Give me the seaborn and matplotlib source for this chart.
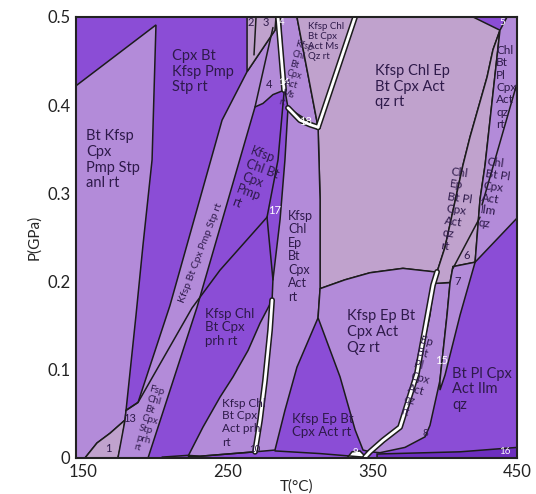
import matplotlib
matplotlib.use('Agg')
import matplotlib.pyplot as plt
import seaborn as sns

sns.set_style('white')
plt.rcParams['font.family'] = ['Lato', 'DejaVu Sans']

DARK = '#8b4dd6'
MID = '#b38bd9'
LIGHT = '#c0a2cd'
DEEP = '#6d2fbf'
EDGE = '#1c1c1c'
INK = '#2e1a4a'

# field outlines, T in °C and P in GPa
anl_T = [145, 200.3, 197.6, 191.3, 186.5, 179.6, 178.9, 168.5, 159.5, 151.2, 145]
anl_P = [0.422, 0.491, 0.338, 0.241, 0.162, 0.054, 0.043, 0.028, 0.017, 0, 0]

f1_T = [151.2, 159.5, 168.5, 178.9, 176.8, 174.0]
f1_P = [0, 0.017, 0.028, 0.043, 0.020, 0]

strip_T = [174.0, 194.8, 228.7, 268.8, 274.3, 281.2, 288.9, 284.7, 283.3, 282.6, 263.3, 246.0, 210.0, 187.9, 179.6, 178.9, 174.0]
strip_P = [0, 0, 0.171, 0.398, 0.402, 0.412, 0.417, 0.5, 0.5, 0.485, 0.438, 0.383, 0.173, 0.063, 0.054, 0.043, 0]

f23_T = [263.3, 283.3, 282.6, 263.3]
f23_P = [0.5, 0.5, 0.485, 0.438]

ms_T = [286.1, 297.8, 312.4, 306.8, 299.9, 291.6, 289.5]
ms_P = [0.5, 0.5, 0.375, 0.378, 0.383, 0.397, 0.417]

msqz_T = [297.8, 338.0, 312.4]
msqz_P = [0.5, 0.5, 0.375]

big_T = [338.0, 419.6, 438.2, 433.4, 429.3, 417.5, 412.6, 400.2, 394.7, 391.9, 371.1, 348.3, 331.0, 313.8, 313.8, 312.4]
big_P = [0.5, 0.5, 0.485, 0.463, 0.432, 0.364, 0.332, 0.239, 0.211, 0.211, 0.215, 0.210, 0.202, 0.192, 0.293, 0.375]

ep_T = [291.6, 312.4, 313.8, 313.8, 312.4, 297.8, 289.5, 282.6, 268.8, 272.3, 275.7, 279.2, 280.6, 281.2, 286.1, 289.5, 291.6]
ep_P = [0.397, 0.375, 0.293, 0.192, 0.159, 0.103, 0.054, 0.009, 0.007, 0.043, 0.088, 0.145, 0.179, 0.202, 0.270, 0.338, 0.397]

qz_T = [313.8, 331.0, 348.3, 371.1, 393.3, 380.8, 369.1, 357.3, 348.3, 343.5, 338.0, 327.6, 312.4]
qz_P = [0.192, 0.202, 0.210, 0.215, 0.211, 0.096, 0.035, 0.020, 0.007, 0.009, 0.032, 0.092, 0.159]

pl_T = [393.3, 403.7, 401.6, 396.7, 389.8, 386.4, 372.5, 355.2, 348.3, 357.3, 369.1, 380.8, 389.8, 391.9]
pl_P = [0.198, 0.199, 0.162, 0.088, 0.037, 0.024, 0.012, 0.006, 0.007, 0.020, 0.035, 0.096, 0.162, 0.190]

chlep_T = [438.2, 427.9, 424.4, 421.0, 405.7, 403.7, 393.3, 394.7, 400.2, 412.6, 417.5, 429.3, 433.4]
chlep_P = [0.485, 0.332, 0.293, 0.222, 0.217, 0.199, 0.198, 0.211, 0.239, 0.332, 0.364, 0.432, 0.463]

f7_T = [405.7, 421.0, 410.6, 400.2, 396.7, 396.7, 401.6, 403.7]
f7_P = [0.217, 0.222, 0.162, 0.094, 0.077, 0.088, 0.162, 0.199]

ilm_T = [438.2, 443.1, 450, 450, 421.0, 424.4, 427.9]
ilm_P = [0.485, 0.5, 0.5, 0.272, 0.222, 0.293, 0.332]

prh_T = [222.5, 232.8, 244.6, 253.6, 264.0, 272.3, 280.6, 279.2, 275.7, 272.3, 268.8, 230.8]
prh_P = [0.002, 0.035, 0.069, 0.092, 0.122, 0.153, 0.179, 0.145, 0.088, 0.043, 0.007, 0.002]

f16_T = [353.2, 353.2, 410.6, 450, 450]
f16_P = [0, 0.0045, 0.007, 0.012, 0]

f9_T = [332.4, 335.9, 341.4, 344.9, 342.8]
f9_P = [0, 0.007, 0.008, 0.002, 0]

# single reaction lines
pmp_T = [179.6, 187.9, 225.2, 244.6, 277.1]
pmp_P = [0.054, 0.063, 0.170, 0.213, 0.273]
pmp_right_T = [277.1, 284.7, 288.9]
pmp_right_P = [0.273, 0.338, 0.415]
l17_T = [277.1, 281.2]
l17_P = [0.273, 0.202]
l4_T = [268.8, 281.2]
l4_P = [0.398, 0.488]
l23_T = [269.5, 268.1]
l23_P = [0.5, 0.457]
l6_T = [424.4, 405.7]
l6_P = [0.273, 0.215]
ilm_line_T = [450, 425.8]
ilm_line_P = [0.425, 0.287]
base_T = [204.5, 222.5, 230.8, 268.8]
base_P = [0.001, 0.003, 0.002, 0.007]
base2_T = [282.6, 313.8, 343.5]
base2_P = [0.008, 0.005, 0.001]

# double (white) lines
d4_T = [284.7, 288.9]
d4_P = [0.5, 0.417]
d18_T = [291.6, 299.9, 306.8, 312.4]
d18_P = [0.397, 0.383, 0.378, 0.375]
dqz_T = [338.0, 312.4]
dqz_P = [0.5, 0.375]
d10_T = [280.6, 279.2, 275.7, 272.3, 268.8]
d10_P = [0.179, 0.145, 0.088, 0.043, 0.007]
dpl_T = [394.7, 391.9, 380.8, 369.1, 357.3, 348.3, 344.9]
dpl_P = [0.211, 0.196, 0.096, 0.035, 0.020, 0.007, 0.001]

fig = plt.figure(figsize=(5.36, 4.94), dpi=100)
ax = fig.add_axes([0.1418, 0.0729, 0.8228, 0.8927])
ax.set_facecolor(DARK)

fields = [
    (anl_T, anl_P, MID), (f1_T, f1_P, LIGHT), (strip_T, strip_P, MID),
    (f23_T, f23_P, LIGHT), (ms_T, ms_P, MID), (msqz_T, msqz_P, LIGHT),
    (big_T, big_P, LIGHT), (ep_T, ep_P, MID), (qz_T, qz_P, MID),
    (pl_T, pl_P, MID), (chlep_T, chlep_P, LIGHT), (f7_T, f7_P, MID),
    (ilm_T, ilm_P, MID), (prh_T, prh_P, MID), (f16_T, f16_P, DEEP),
    (f9_T, f9_P, 'white'),
]
for T, P, c in fields:
    ax.fill(T, P, facecolor=c, edgecolor=EDGE, linewidth=1.1, zorder=2)

for T, P in [(pmp_T, pmp_P), (pmp_right_T, pmp_right_P), (l17_T, l17_P),
             (l4_T, l4_P), (l23_T, l23_P), (l6_T, l6_P),
             (ilm_line_T, ilm_line_P), (base_T, base_P), (base2_T, base2_P)]:
    sns.lineplot(x=T, y=P, sort=False, estimator=None, color=EDGE,
                 linewidth=1.1, ax=ax, zorder=3)

for T, P in [(d4_T, d4_P), (d18_T, d18_P), (dqz_T, dqz_P),
             (d10_T, d10_P), (dpl_T, dpl_P)]:
    sns.lineplot(x=T, y=P, sort=False, estimator=None, color=EDGE,
                 linewidth=4.2, ax=ax, zorder=4)
    sns.lineplot(x=T, y=P, sort=False, estimator=None, color='white',
                 linewidth=2.0, ax=ax, zorder=5)

labels = [
    ("Cpx Bt\nKfsp Pmp\nStp rt", 211.4, 0.438, 10.5, 0, 'left', INK),
    ("Bt Kfsp\nCpx\nPmp Stp\nanl rt", 151.9, 0.338, 10.5, 0, 'left', INK),
    ("Kfsp Bt Cpx Pmp Stp rt", 231.4, 0.232, 7.5, 69, 'center', INK),
    ("Kfsp\nChl Bt\nCpx\nPmp\nrt", 270.9, 0.313, 9, -20, 'center', INK),
    ("Kfsp Chl\nBt Cpx\nprh rt", 234.2, 0.1485, 9.5, 0, 'left', INK),
    ("Fsp\nChl\nBt\nCpx\nStp\nprh\nrt", 196.2, 0.043, 7, -15, 'center', INK),
    ("1", 167.1, 0.011, 8, 0, 'center', INK),
    ("13", 182.3, 0.045, 8, 0, 'center', INK),
    ("2", 266.0, 0.494, 8, 0, 'center', INK),
    ("3", 276.4, 0.494, 8, 0, 'center', INK),
    ("4", 287.5, 0.494, 7, 0, 'center', 'white'),
    ("4", 278.5, 0.424, 8, 0, 'center', INK),
    ("14", 289.0, 0.426, 7, 0, 'center', 'white'),
    ("Kfsp\nChl\nBt\nCpx\nAct\nMs\nrt", 297.1, 0.434, 6.5, -15, 'center', INK),
    ("Kfsp Chl\nBt Cpx\nAct Ms\nQz rt", 305.4, 0.472, 7, 0, 'left', INK),
    ("Kfsp Chl Ep\nBt Cpx Act\nqz rt", 351.8, 0.421, 10.5, 0, 'left', INK),
    ("Chl\nBt\nPl\nCpx\nAct\nqz\nrt", 435.5, 0.420, 8.5, 0, 'left', INK),
    ("Chl\nBt Pl\nCpx\nAct\nIlm\nqz", 434.8, 0.300, 8.5, -8, 'center', INK),
    ("Chl\nEp\nBt Pl\nCpx\nAct\nqz\nrt", 409.2, 0.281, 8.5, -8, 'center', INK),
    ("6", 415.4, 0.230, 8, 0, 'center', INK),
    ("7", 409.2, 0.200, 8, 0, 'center', INK),
    ("5", 439.6, 0.494, 7, 0, 'center', 'white'),
    ("Kfsp\nChl\nEp\nBt\nCpx\nAct\nrt", 291.6, 0.229, 9, 0, 'left', INK),
    ("17", 282.6, 0.281, 8, 0, 'center', 'white'),
    ("18", 303.4, 0.381, 8, 0, 'center', 'white'),
    ("Kfsp Ep Bt\nCpx Act\nQz rt", 332.4, 0.143, 10.5, 0, 'left', INK),
    ("Kfsp Ep Bt\nCpx Act rt", 294.4, 0.037, 9.5, 0, 'left', INK),
    ("Kfsp Chl\nBt Cpx\nAct prh", 246.0, 0.048, 8.5, 0, 'left', INK),
    ("rt", 246.0, 0.017, 8.5, 0, 'left', INK),
    ("10", 268.5, 0.010, 7, 0, 'center', INK),
    ("Ep\nBt\nPl\nCpx\nAct\nqz\nrt", 382.9, 0.091, 8, -15, 'center', INK),
    ("15", 398.1, 0.111, 8, 0, 'center', 'white'),
    ("8", 386.4, 0.028, 7, 0, 'center', INK),
    ("9", 338.0, 0.006, 7, 0, 'center', 'white'),
    ("Bt Pl Cpx\nAct Ilm\nqz", 425.8, 0.078, 10.5, 0, 'center', INK),
    ("16", 441.7, 0.007, 7, 0, 'center', 'white'),
]
for s, t, p, fs, rot, ha, col in labels:
    ax.text(t, p, s, fontsize=fs, rotation=rot, ha=ha, va='center',
            multialignment='left', linespacing=1.15, color=col, zorder=6,
            rotation_mode='anchor')

ax.set_xlim(145, 450)
ax.set_ylim(0, 0.5)
ax.set_xticks([150, 250, 350, 450])
ax.set_yticks([0, 0.1, 0.2, 0.3, 0.4, 0.5])
ax.set_yticklabels(['0', '0.1', '0.2', '0.3', '0.4', '0.5'])
ax.tick_params(labelsize=12, length=0, pad=4, colors='#222222')
ax.set_xlabel('T(°C)', fontsize=11, labelpad=0)
ax.set_ylabel('P(GPa)', fontsize=11, labelpad=4)
for s in ax.spines.values():
    s.set_color('#222222')
    s.set_linewidth(1.5)
    s.set_zorder(7)

fig.savefig('out.png', dpi=100)
